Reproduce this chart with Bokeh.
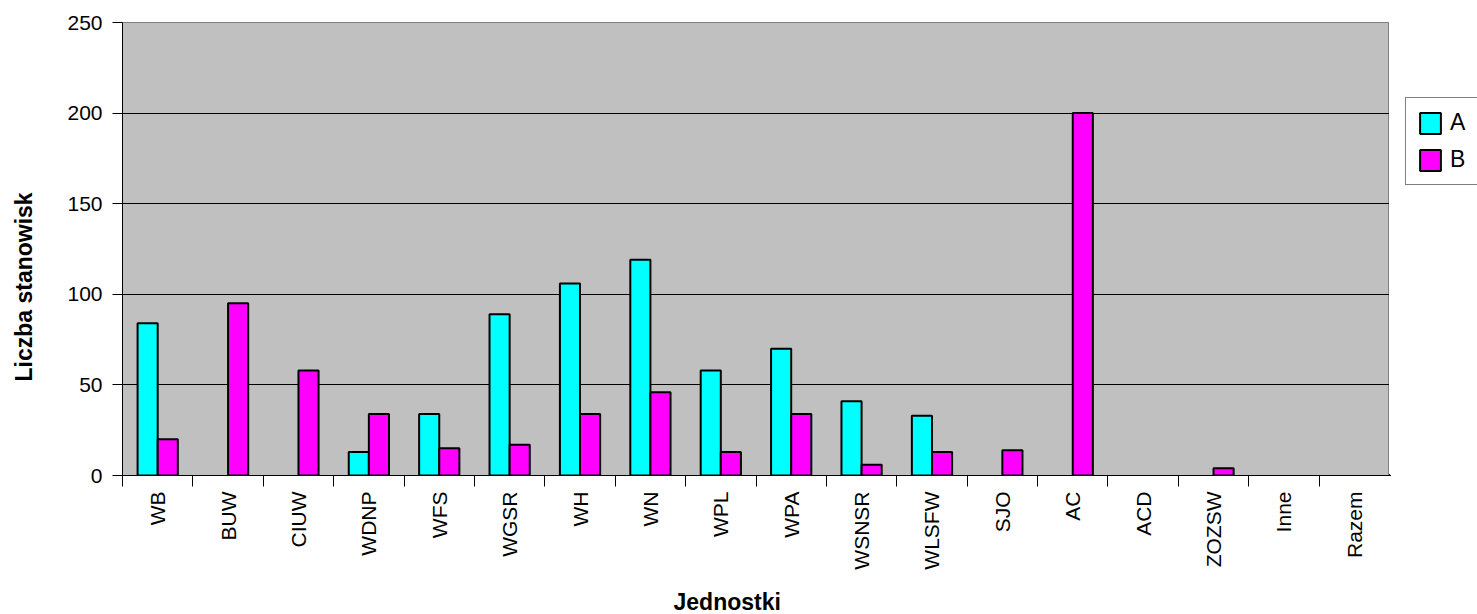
from bokeh.plotting import figure
from bokeh.layouts import row
from bokeh.models import (FixedTicker, Legend, LegendItem, Title, ColumnDataSource,
                          Range1d)
from bokeh.embed import file_html
from bokeh.resources import INLINE
import math

categories = ["WB", "BUW", "CIUW", "WDNP", "WFS", "WGSR", "WH", "WN", "WPL", "WPA",
              "WSNSR", "WLSFW", "SJO", "AC", "ACD", "ZOZSW", "Inne", "Razem"]
series_a = [84, None, None, 13, 34, 89, 106, 119, 58, 70, 41, 33, None, None, None, None, None, None]
series_b = [20, 95, 58, 34, 15, 17, 34, 46, 13, 34, 6, 13, 14, 200, None, 4, None, None]
y_ticks = [0, 50, 100, 150, 200, 250]
series_names = ["A", "B"]
colors = ["#00FFFF", "#FF00FF"]

FONT = "Liberation Sans"
bar_w = 1 / 3.5

p = figure(width=1389, height=614, output_backend="svg", toolbar_location=None,
           x_range=Range1d(-0.5, len(categories) - 0.5), y_range=Range1d(0, 250),
           min_border_left=122, min_border_right=0, min_border_top=22, min_border_bottom=139,
           background_fill_color="#C0C0C0", border_fill_color="white",
           outline_line_color="#808080", outline_line_width=1)

sources = []
for k, (vals, col) in enumerate(zip([series_a, series_b], colors)):
    xs, tops = [], []
    for i, v in enumerate(vals):
        if v is not None:
            xs.append(i + (k - 0.5) * bar_w)
            tops.append(v)
    src = ColumnDataSource(dict(x=xs, top=tops))
    sources.append(src)
    p.vbar(x="x", top="top", width=bar_w, bottom=0, source=src,
           fill_color=col, line_color="black", line_width=2)

# x axis: labels at category centres, ticks at boundaries
xa = p.xaxis[0]
xa.ticker = FixedTicker(ticks=list(range(len(categories))),
                        minor_ticks=[i - 0.5 for i in range(len(categories) + 1)])
xa.major_label_overrides = {i: c for i, c in enumerate(categories)}
xa.major_tick_line_color = None
xa.major_tick_out = 11
xa.major_tick_in = 0
xa.minor_tick_line_color = "black"
xa.minor_tick_out = 11
xa.minor_tick_in = 0
xa.major_label_orientation = math.pi / 2
xa.major_label_standoff = 5
xa.major_label_text_font = FONT
xa.major_label_text_font_size = "21px"
xa.major_label_text_color = "black"
xa.axis_line_color = "black"

ya = p.yaxis[0]
ya.ticker = FixedTicker(ticks=y_ticks)
ya.major_tick_out = 10
ya.major_tick_in = 0
ya.minor_tick_line_color = None
ya.major_label_standoff = 10
ya.major_label_text_font = FONT
ya.major_label_text_font_size = "21px"
ya.major_label_text_color = "black"
ya.axis_line_color = "black"

p.xgrid.grid_line_color = None
p.ygrid.ticker = FixedTicker(ticks=y_ticks)
p.ygrid.grid_line_color = "black"
p.ygrid.grid_line_width = 1

# spacers pushing the axis titles outward
p.add_layout(Title(text=" ", text_font_size="1px", standoff=11), "below")
p.add_layout(Title(text=" ", text_font_size="1px", standoff=25), "left")

tx = Title(text="Jednostki", align="left", offset=551, text_font=FONT,
           text_font_style="bold", text_font_size="23px", text_color="black", standoff=0)
p.add_layout(tx, "below")
ty = Title(text="Liczba stanowisk", align="left", offset=94, text_font=FONT,
           text_font_style="bold", text_font_size="23px", text_color="black", standoff=0)
p.add_layout(ty, "left")

# legend panel to the right of the plot area (same series sources, out of view)
lf = figure(width=88, height=614, output_backend="svg", toolbar_location=None,
            x_range=Range1d(1000, 1001), y_range=Range1d(1000, 1001),
            x_axis_location=None, y_axis_location=None, min_border=0,
            outline_line_color=None, background_fill_color="white", border_fill_color="white")
lf.grid.visible = False
proxies = []
for src, col in zip(sources, colors):
    proxies.append(lf.vbar(x="x", top="top", width=bar_w, bottom=0, source=src,
                           fill_color=col, line_color="black", line_width=2))
legend = Legend(items=[LegendItem(label=n, renderers=[r]) for n, r in zip(series_names, proxies)],
                location=(16, 290), border_line_color="black", border_line_width=1,
                background_fill_color="white", background_fill_alpha=1.0,
                padding=11, spacing=10, label_height=21, glyph_height=26, glyph_width=26,
                label_standoff=7, label_text_font=FONT, label_text_font_size="23px",
                label_text_color="black", label_width=30, margin=0)
lf.add_layout(legend)

layout = row(p, lf, spacing=0)
open("out.html", "w").write(file_html(layout, INLINE))
